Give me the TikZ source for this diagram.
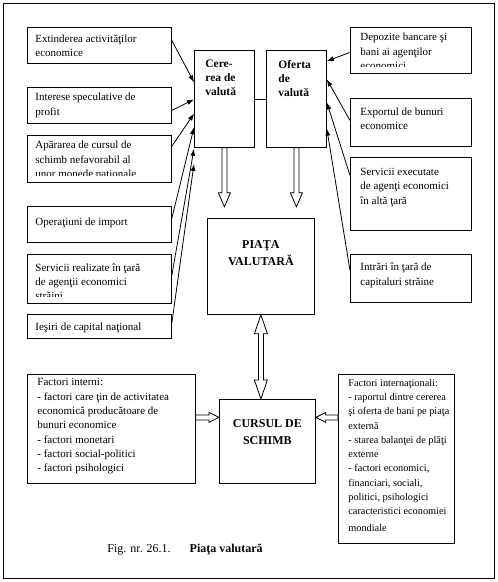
\documentclass[tikz,border=0pt]{standalone}
\usepackage{fontspec}
\setmainfont{Liberation Serif}
\usetikzlibrary{calc,arrows.meta}

% hollow block arrows: {head length}{head half width}{from}{to}
\newcommand{\fatarrow}[4]{%
  \coordinate (fh) at ($(#4)!#1!(#3)$);
  \draw[hollow] ($(#3)!2.5pt!90:(#4)$) -- ($(fh)!2.5pt!90:(#4)$)
    -- ($(fh)!#2!90:(#4)$) -- (#4) -- ($(fh)!#2!-90:(#4)$)
    -- ($(fh)!2.5pt!-90:(#4)$) -- ($(#3)!2.5pt!-90:(#4)$) -- cycle;}
\newcommand{\fatdarrow}[4]{%
  \coordinate (fh0) at ($(#3)!#1!(#4)$);
  \coordinate (fh1) at ($(#4)!#1!(#3)$);
  \draw[hollow] (#3) -- ($(fh0)!#2!90:(#4)$) -- ($(fh0)!2.5pt!90:(#4)$)
    -- ($(fh1)!2.5pt!90:(#4)$) -- ($(fh1)!#2!90:(#4)$) -- (#4)
    -- ($(fh1)!#2!-90:(#4)$) -- ($(fh1)!2.5pt!-90:(#4)$)
    -- ($(fh0)!2.5pt!-90:(#4)$) -- ($(fh0)!#2!-90:(#4)$) -- cycle;}

\tikzset{
  fbox/.style 2 args={draw, anchor=north west, inner sep=0pt,
    minimum width=#1, minimum height=#2},
  ftext/.style={anchor=west, align=left, inner sep=0pt,
    font=\fontsize{11}{14.3}\selectfont},
  vbox/.style={draw, anchor=north west, inner ysep=9.5pt,
    font=\bfseries\fontsize{11.5}{14}\selectfont},
  mbox/.style={draw, anchor=north west, inner xsep=0pt,
    font=\bfseries\fontsize{12}{17.5}\selectfont},
  hollow/.style={draw, fill=white, line width=0.8pt, line join=miter},
}

\begin{document}
\begin{tikzpicture}[x=1pt,y=-1pt,line width=0.8pt,>={Latex[length=7pt,width=5pt]}]
\useasboundingbox (0,0) rectangle (498,582);
\draw (3,3) rectangle (494,578);
% ---- demand and supply of currency ----
\node[vbox, inner xsep=11pt] (cer) at (194,50)
  {\parbox[c][78pt][t]{38pt}{\raggedright Cere-\\rea de\\valută}};
\node[vbox, inner xsep=12pt] (ofe) at (266,50)
  {\parbox[c][78pt][t]{36pt}{\raggedright Oferta\\de\\valută}};
\draw (cer.east) -- (ofe.west);
% ---- left factors (demand) ----
\node[fbox={144pt}{36pt}] (ext) at (27,27) {};
\node[ftext] (ext-t) at ([xshift=8pt]ext.west) {Extinderea activităţilor\\economice};
\node[fbox={144pt}{36pt}] (int) at (27,87) {};
\node[ftext] (int-t) at ([xshift=8pt]int.west) {Interese speculative de\\profit};
\node[fbox={144pt}{47pt}] (apa) at (27,135) {};
\begin{scope}
  \clip (apa.north west) rectangle ([yshift=7pt]apa.south east);
  \node[ftext] (apa-t) at ([xshift=8pt,yshift=-1.5pt]apa.west)
    {Apărarea de cursul de\\schimb nefavorabil al\\unor monede naţionale};
\end{scope}
\node[fbox={144pt}{36pt}] (imp) at (27,206) {};
\node[ftext] (imp-t) at ([xshift=8pt,yshift=2pt]imp.west) {Operaţiuni de import};
\node[fbox={144pt}{49pt}] (ser) at (27,254) {};
\begin{scope}
  \clip (ser.north west) rectangle ([yshift=7pt]ser.south east);
  \node[ftext] (ser-t) at ([xshift=8pt,yshift=-3pt]ser.west)
    {Servicii realizate în ţară\\de agenţii economici\\străini};
\end{scope}
\node[fbox={144pt}{24pt}] (ies) at (27,314) {};
\node[ftext] (ies-t) at ([xshift=8pt,yshift=-1pt]ies.west) {Ieşiri de capital naţional};
\draw[->] ([yshift=5pt]ext.east) -- ($(cer.north west)!0.33!(cer.south west)$);
\draw[->] ([yshift=-5pt]int.east) -- ($(cer.north west)!0.505!(cer.south west)$);
\draw[->] ([yshift=12.5pt]apa.east) -- ($(cer.north west)!0.65!(cer.south west)$);
\draw[->] ([yshift=6pt]imp.east) -- ($(cer.north west)!0.79!(cer.south west)$);
\draw[->] ([yshift=3.5pt]ser.east) -- ($(cer.north west)!1.01!(cer.south west)$);
\draw[->] ([yshift=3pt]ies.east) -- ($(cer.north west)!1.165!(cer.south west)$);
% ---- right factors (supply) ----
\node[fbox={121pt}{46pt}] (dep) at (350,27) {};
\begin{scope}
  \clip (dep.north west) rectangle ([yshift=7pt]dep.south east);
  \node[ftext] (dep-t) at ([xshift=10pt,yshift=-1pt]dep.west)
    {Depozite bancare şi\\bani ai agenţilor\\economici};
\end{scope}
\node[fbox={121pt}{48pt}] (exp) at (350,98) {};
\node[ftext] (exp-t) at ([xshift=10pt,yshift=3.5pt]exp.west) {Exportul de bunuri\\economice};
\node[fbox={121pt}{73pt}] (sve) at (350,157) {};
\node[ftext] (sve-t) at ([xshift=10pt,yshift=6.5pt]sve.west)
  {Servicii executate\\de agenţi economici\\în altă ţară};
\node[fbox={121pt}{48pt}] (itr) at (350,254) {};
\node[ftext] (itr-t) at ([xshift=10pt,yshift=3pt]itr.west) {Intrări în ţară de\\capitaluri străine};
\draw[->] ([yshift=-2pt]dep.west) -- ($(ofe.north east)!0.113!(ofe.south east)$);
\draw[->] ([yshift=2pt]exp.west) -- ($(ofe.north east)!0.3!(ofe.south east)$);
\draw[->] ([yshift=18.5pt]sve.west) -- ($(ofe.north east)!0.536!(ofe.south east)$);
\draw[->] ([yshift=8pt]itr.west) -- ($(ofe.north east)!0.804!(ofe.south east)$);
% ---- market and exchange rate ----
\node[mbox, inner ysep=22pt] (pia) at (207,218)
  {\parbox[c][52pt][t]{107pt}{\centering PIAŢA\\VALUTARĂ}};
\node[mbox, inner ysep=20pt] (cs) at (219,399)
  {\parbox[c][44pt][t]{96pt}{\centering CURSUL DE\\SCHIMB}};
\coordinate (cerT) at ([yshift=-59pt]cer.south);
\coordinate (ofeT) at ([yshift=-59pt]ofe.south);
\fatarrow{14pt}{6pt}{cer.south}{cerT}
\fatarrow{14pt}{6pt}{ofe.south}{ofeT}
\coordinate (csT) at (pia.south |- cs.north);
\fatdarrow{19pt}{6.5pt}{pia.south}{csT}
% ---- internal / international factors ----
\node[fbox={168pt}{109pt}] (fin) at (27,374) {};
\node[ftext] (fin-t) at ([xshift=10pt,yshift=2.5pt]fin.west)
  {Factori interni:\\- factori care ţin de activitatea\\economică producătoare de\\bunuri economice\\- factori monetari\\- factori social-politici\\- factori psihologici};
\node[fbox={116pt}{169pt}] (fex) at (338,374) {};
\node[ftext, font=\fontsize{10.3}{14.3}\selectfont] (fex-t) at ([xshift=10pt,yshift=3.5pt]fex.west)
  {Factori internaţionali:\\- raportul dintre cererea\\şi oferta de bani pe piaţa\\externă\\- starea balanţei de plăţi\\externe\\- factori economici,\\financiari, sociali,\\politici, psihologici\\caracteristici economiei\\[2.5pt]mondiale};
\coordinate (finA) at ([yshift=11.5pt]fin.east);
\coordinate (finB) at (finA -| cs.west);
\coordinate (fexA) at (fex.west |- finA);
\coordinate (fexB) at (fexA -| cs.east);
\fatarrow{10pt}{5pt}{finA}{finB}
\fatarrow{10pt}{5pt}{fexA}{fexB}
\node[anchor=west, inner sep=0pt, font=\fontsize{12}{14}\selectfont] (cap) at (107,550)
  {Fig. nr. 26.1.\hspace{19pt}\textbf{Piaţa valutară}};
\end{tikzpicture}
\end{document}
